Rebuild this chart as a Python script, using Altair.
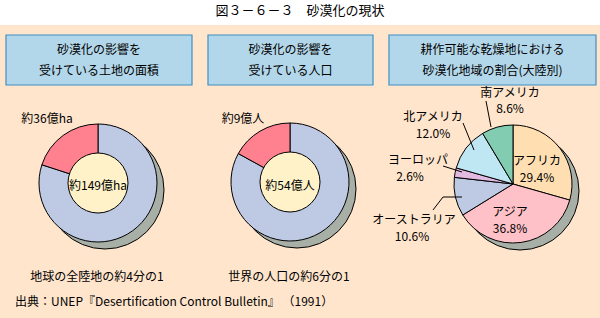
import math
import altair as alt
import pandas as pd

# ---------------- data ----------------
title = "図３－６－３　砂漠化の現状"
box_line1 = ["砂漠化の影響を", "砂漠化の影響を", "耕作可能な乾燥地における"]
box_line2 = ["受けている土地の面積", "受けている人口", "砂漠化地域の割合(大陸別)"]

land_parts = ["その他の陸地", "影響を受けている土地"]
land_share = [80, 20]
pop_parts = ["その他の人口", "影響を受けている人口"]
pop_share = [83, 17]
donut_outer = ["約36億ha", "約9億人"]
donut_inner = ["約149億ha", "約54億人"]
donut_notes = ["地球の全陸地の約4分の1", "世界の人口の約6分の1"]

continents = ["アフリカ", "アジア", "オーストラリア", "ヨーロッパ", "北アメリカ", "南アメリカ"]
cont_share = [29.4, 36.8, 10.6, 2.6, 12.0, 8.6]

source = "出典：UNEP『Desertification Control Bulletin』 （1991）"

# ---------------- styles / layout ----------------
FONT = "Noto Sans CJK JP"
PEACH = "#FFE5CC"
BOX_FILL = "#B3D7EA"
BOX_STROKE = "#3F8FC4"
RING_BLUE = "#BEC9E4"
RING_RED = "#FF8190"
CREAM = "#FFF2C9"
SHADOW = "#A8AFA6"
CONT_COLORS = ["#FFDFB2", "#FFC1C8", "#BEC9E4", "#E2B9E0", "#BFE6F3", "#82CDB1"]

R_OUT = 59
R_IN = 30
SH = 7
centers = [(98, 183), (290, 182), (513, 184)]
box_x = [(6, 192), (208, 373), (389, 596)]

one = pd.DataFrame({"k": [0]})
TWO_PI = 2 * math.pi

bg = alt.Chart(one).mark_rect(color=PEACH).encode(
    x=alt.value(0), x2=alt.value(600), y=alt.value(25), y2=alt.value(318))

boxes_df = pd.DataFrame({"x0": [b[0] for b in box_x], "x1": [b[1] for b in box_x]})
boxes = alt.Chart(boxes_df).mark_rect(fill=BOX_FILL, stroke=BOX_STROKE, strokeWidth=1.2).encode(
    x=alt.X("x0:Q", scale=None), x2="x1:Q", y=alt.value(35), y2=alt.value(85))

cent_df = pd.DataFrame({"cx": [c[0] for c in centers], "cy": [c[1] for c in centers]})
sh_df = cent_df.assign(cx=cent_df.cx + SH, cy=cent_df.cy + SH)
shadows = alt.Chart(sh_df).mark_arc(outerRadius=R_OUT, theta=0, theta2=TWO_PI,
                                    fill=SHADOW, stroke="black", strokeWidth=1).encode(
    x=alt.X("cx:Q", scale=None), y=alt.Y("cy:Q", scale=None))


def pie(parts, shares, colors, c):
    df = pd.DataFrame({"part": parts, "share": shares, "idx": list(range(len(parts)))})
    return alt.Chart(df).mark_arc(outerRadius=R_OUT, stroke="black", strokeWidth=1).encode(
        theta=alt.Theta("share:Q", stack=True),
        order=alt.Order("idx:Q"),
        color=alt.Color("part:N", scale=alt.Scale(domain=parts, range=colors), legend=None),
        x=alt.value(c[0]), y=alt.value(c[1]))


pie_land = pie(land_parts, land_share, [RING_BLUE, RING_RED], centers[0])
pie_pop = pie(pop_parts, pop_share, [RING_BLUE, RING_RED], centers[1])
pie_cont = pie(continents, cont_share, CONT_COLORS, centers[2])

inner_df = cent_df.iloc[:2]
inner = alt.Chart(inner_df).mark_arc(outerRadius=R_IN, theta=0, theta2=TWO_PI,
                                     fill=CREAM, stroke="black", strokeWidth=1).encode(
    x=alt.X("cx:Q", scale=None), y=alt.Y("cy:Q", scale=None))

# leader lines
lines_df = pd.DataFrame({
    "x": [486, 463, 443, 433, 443],
    "y": [101, 123, 166, 210, 197],
    "x2": [491, 474, 462, 443, 462],
    "y2": [127, 150, 172, 197, 197],
})
leaders = alt.Chart(lines_df).mark_rule(color="black", strokeWidth=1).encode(
    x=alt.X("x:Q", scale=None), y=alt.Y("y:Q", scale=None),
    x2="x2:Q", y2="y2:Q")

# text table
pct = [f"{v:.1f}%" for v in cont_share]
texts = []
texts.append((title, 300, 11, "center", 13))
for i in range(3):
    cx = (box_x[i][0] + box_x[i][1]) / 2
    texts.append((box_line1[i], cx, 50, "center", 12))
    texts.append((box_line2[i], cx, 71, "center", 12))
texts += [
    (donut_outer[0], 47, 119, "center", 12),
    (donut_outer[1], 243, 119, "center", 12),
    (donut_inner[0], centers[0][0], 186, "center", 12),
    (donut_inner[1], centers[1][0], 186, "center", 12),
    (donut_notes[0], 97, 277, "center", 12),
    (donut_notes[1], 289, 277, "center", 12),
    (continents[0], 537, 161, "center", 12), (pct[0], 537, 178, "center", 12),
    (continents[1], 510, 212, "center", 12), (pct[1], 510, 229, "center", 12),
    (continents[2], 414, 220, "center", 12), (pct[2], 412, 237, "center", 12),
    (continents[3], 418, 160, "center", 12), (pct[3], 410, 177, "center", 12),
    (continents[4], 433, 117, "center", 12), (pct[4], 433, 134, "center", 12),
    (continents[5], 510, 93, "center", 12), (pct[5], 510, 109, "center", 12),
    (source, 15, 302, "left", 12),
]
tdf = pd.DataFrame(texts, columns=["t", "x", "y", "align", "size"])


def text_layer(df, align, size):
    return alt.Chart(df).mark_text(font=FONT, fontSize=size, align=align, baseline="middle",
                                   color="black").encode(
        x=alt.X("x:Q", scale=None), y=alt.Y("y:Q", scale=None), text="t:N")


text_layers = []
for (a, s), g in tdf.groupby(["align", "size"]):
    text_layers.append(text_layer(g.reset_index(drop=True), a, s))

chart = alt.layer(
    bg, boxes, shadows, pie_land, pie_pop, pie_cont, inner, leaders, *text_layers
).resolve_scale(theta="independent", color="independent").properties(
    width=600, height=318, padding=0, autosize=alt.AutoSizeParams(type="none"),
    background="white"
).configure_view(stroke=None)

chart.save("out.html", embed_options={"renderer": "svg", "actions": False})
